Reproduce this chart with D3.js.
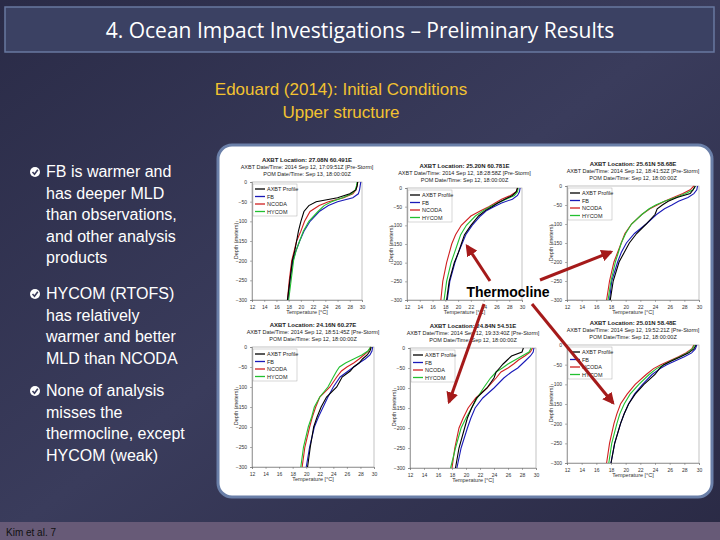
<!DOCTYPE html>
<html><head><meta charset="utf-8">
<script src="https://d3js.org/d3.v7.min.js"></script>
<style>body{margin:0;background:#2f304d}</style></head>
<body><svg id="s" width="720" height="540"></svg>
<script>
const depths=[0,10,20,30,40,50,60,75,100,125,150,175,200,250,300];
const seriesNames=["AXBT Profile","FB","NCODA","HYCOM"];
const seriesColors=["#000","#1a1ab8","#d02020","#22c030"];
const xTicks=[12,14,16,18,20,22,24,26,28,30];
const yTicks=[0,-50,-100,-150,-200,-250,-300];
const panelTitles=[
["AXBT Location: 27.08N 60.491E","AXBT Date/Time: 2014 Sep 12, 17:09:51Z [Pre-Storm]","POM Date/Time: Sep 13, 18:00:00Z"],
["AXBT Location: 25.20N 60.781E","AXBT Date/Time: 2014 Sep 12, 18:28:58Z [Pre-Storm]","POM Date/Time: Sep 12, 18:00:00Z"],
["AXBT Location: 25.61N 58.68E","AXBT Date/Time: 2014 Sep 12, 18:41:52Z [Pre-Storm]","POM Date/Time: Sep 12, 18:00:00Z"],
["AXBT Location: 24.16N 60.27E","AXBT Date/Time: 2014 Sep 12, 18:51:45Z [Pre-Storm]","POM Date/Time: Sep 12, 18:00:00Z"],
["AXBT Location: 24.84N 54.51E","AXBT Date/Time: 2014 Sep 12, 19:33:40Z [Pre-Storm]","POM Date/Time: Sep 12, 18:00:00Z"],
["AXBT Location: 25.01N 58.48E","AXBT Date/Time: 2014 Sep 12, 19:52:21Z [Pre-Storm]","POM Date/Time: Sep 12, 18:00:00Z"]];
const p1=[[29.3,29.2,29,28,26,22.5,21.3,20.5,20,19.6,19.3,19,18.6,18.2,17.8],
[29.8,29.7,29.6,29.4,28.5,26,24.5,23,21.5,20.5,19.8,19.2,18.7,18.2,17.9],
[29.3,29.2,29,28.5,27,24.5,23,21.5,20.6,20,19.3,18.9,18.5,18.1,17.8],
[29.2,29.1,28.9,28.3,26.8,25,23.8,22.8,21.3,20.4,19.8,19.2,18.8,18.4,18]];
const p2=[[29.3,29.1,28.5,27.3,26.2,25.3,24.3,23.2,22,21,20.5,20,19.4,18.6,18.2],
[29.7,29.6,29.3,28.5,26.8,25.6,24.5,23.5,22.2,21.2,20.6,20,19.5,18.7,18.3],
[29.3,29.1,28.2,26.8,25.8,24.8,23.6,22,20.5,19.6,19,18.6,18.2,17.6,17.3],
[29.4,29.3,28.8,27.5,26.2,25,24,22.7,21.3,20.4,19.9,19.4,18.9,18.2,17.8]];
const p3=[[29.5,29.2,28.8,27,25.8,25,24.3,24,22.8,21.5,20.5,19.8,19.1,18.3,17.9],
[29.8,29.7,29.3,28.5,27.2,26.3,25.3,24.2,22.8,21.2,20.1,19.4,18.9,18.1,17.8],
[29.3,28.8,27.8,26.5,25.3,24.3,23.3,22.2,20.8,19.9,19.4,18.9,18.4,17.8,17.4],
[29.5,29.2,28.2,26.8,25.3,24.1,23.2,22.2,20.8,20,19.4,19,18.6,18,17.6]];
const p4=[[29.6,29.4,29,28.3,27.8,27,26.5,25.3,24.5,23,22.2,21.6,21.1,20.6,20.2],
[29.8,29.7,29.4,28.7,27.8,27,26.2,25,24,23.2,22.5,21.8,21.2,20.5,20],
[29.5,29.2,28.5,27.8,27,26,25.2,24.5,23.5,22,21.4,20.9,20.5,19.8,19.4],
[29.5,29.1,28.2,27,25.8,24.9,24.5,24,23.2,22,21.2,20.8,20.3,19.6,19.2]];
const p5=[[28.2,28,26.5,25.9,25.3,24.8,24.3,24,23,21.5,20.8,20.2,19.8,19,18.5],
[29.7,29.6,29.2,28.6,28,27.4,26.5,25.4,24,22.4,21.3,20.7,20.2,19.3,18.7],
[29.5,29.2,28.4,27.5,26.8,26,25,24.3,23,21.4,20.3,19.6,19,18.4,18],
[29.3,29,28,27,26,25.2,24.3,23.5,22.5,21.6,20.8,20,19.3,18.5,17.8]];
const p6=[[29.6,29.3,28.6,27.5,26.3,25.2,24.6,24,22.5,21.3,20.4,19.8,19.3,18.5,18],
[29.7,29.5,29,28,26.8,25.6,24.7,23.6,22.3,21.2,20.4,19.8,19.3,18.5,18],
[29.3,29,28.2,27.2,26,24.8,23.8,22.8,21.3,20.2,19.3,18.8,18.4,17.8,17.4],
[29.4,29.1,28.4,27.4,26.2,25.2,24.2,23.2,21.8,20.6,19.8,19.2,18.8,18.1,17.7]];
const panelData=[p1,p2,p3,p4,p5,p6];
const bullets=[["FB is warmer and","has deeper MLD","than observations,","and other analysis","products"],
["HYCOM (RTOFS)","has relatively","warmer and better","MLD than NCODA"],
["None of analysis","misses the","thermocline, except","HYCOM (weak)"]];

const svg=d3.select("#s");
const g0=svg.append("defs").append("linearGradient").attr("id","bg").attr("x1",0).attr("x2",1).attr("y1",0).attr("y2",1);
g0.append("stop").attr("offset",0).attr("stop-color","#2a2b47");
g0.append("stop").attr("offset",0.5).attr("stop-color","#3a3c5c");
g0.append("stop").attr("offset",1).attr("stop-color","#2a2a45");
svg.append("rect").attr("width",720).attr("height",540).attr("fill","url(#bg)");
svg.append("rect").attr("x",5).attr("y",7).attr("width",709).attr("height",45).attr("fill","#3b4163").attr("stroke","#6878a0").attr("stroke-width",1.5);
svg.append("text").attr("x",360).attr("y",38).attr("text-anchor","middle").attr("fill","#fff").attr("font-family","Open Sans").attr("font-size",21).text("4. Ocean Impact Investigations – Preliminary Results");
svg.append("text").attr("x",341).attr("y",95).attr("text-anchor","middle").attr("fill","#f2c230").attr("font-family","Liberation Sans").attr("font-size",17).text("Edouard (2014): Initial Conditions");
svg.append("text").attr("x",341).attr("y",118).attr("text-anchor","middle").attr("fill","#f2c230").attr("font-family","Liberation Sans").attr("font-size",17).text("Upper structure");
svg.append("rect").attr("x",0).attr("y",522).attr("width",720).attr("height",18).attr("fill","#675a77");
svg.append("text").attr("x",6).attr("y",536).attr("fill","#111").attr("font-family","Liberation Sans").attr("font-size",10).text("Kim et al. 7");
const by=[177,299,396];
bullets.forEach((b,i)=>{
  const bx=svg.append("g").attr("transform",`translate(35,${by[i]-5})`);
  bx.append("circle").attr("r",5).attr("fill","#fff");
  bx.append("path").attr("d","M-2.5,0 L-0.5,2.2 L2.8,-2.3").attr("stroke","#3a3c5c").attr("stroke-width",1.6).attr("fill","none");
  b.forEach((t,j)=>svg.append("text").attr("x",46).attr("y",by[i]+j*21.5).attr("fill","#fff").attr("font-family","Liberation Sans").attr("font-size",16).text(t));
});
svg.append("rect").attr("x",218).attr("y",145).attr("width",494).attr("height",352).attr("rx",14).attr("fill","#fff").attr("stroke","#6a7fa8").attr("stroke-width",3);
const boxes=[[252,182,110,118],[407,188,115,112],[567,186,132,114],[252,347,122,120],[410,348,126,120],[567,345,132,118]];
boxes.forEach((b,i)=>{
  const [x0,y0,w,h]=b;
  const x=d3.scaleLinear().domain([12,30]).range([x0,x0+w]);
  const y=d3.scaleLinear().domain([0,-300]).range([y0,y0+h]);
  const g=svg.append("g").attr("font-family","Liberation Sans");
  g.append("rect").attr("x",x0).attr("y",y0).attr("width",w).attr("height",h).attr("fill","#fff").attr("stroke","#999").attr("stroke-width",0.6);
  const ax=g.append("g").attr("transform",`translate(0,${y0+h})`).call(d3.axisBottom(x).tickValues(xTicks).tickSize(2));
  const ay=g.append("g").attr("transform",`translate(${x0},0)`).call(d3.axisLeft(y).tickValues(yTicks).tickSize(2));
  [ax,ay].forEach(a=>{a.selectAll("text").attr("font-size",5).attr("fill","#333");a.selectAll("line,path").attr("stroke","#666").attr("stroke-width",0.5);});
  g.append("text").attr("x",x0+w/2).attr("y",y0+h+14).attr("text-anchor","middle").attr("font-size",5.5).attr("fill","#333").text("Temperature [°C]");
  g.append("text").attr("transform",`translate(${x0-14},${y0+h/2}) rotate(-90)`).attr("text-anchor","middle").attr("font-size",5.5).attr("fill","#333").text("Depth (meters)");
  panelTitles[i].forEach((t,j)=>g.append("text").attr("x",x0+w/2).attr("y",y0-20+j*7).attr("text-anchor","middle").attr("font-size",j==0?6:5.5).attr("font-weight",j==0?"bold":"normal").attr("fill","#222").text(t));
  const line=d3.line().x(d=>x(d[0])).y(d=>y(-d[1]));
  [1,2,3,0].forEach(k=>g.append("path").attr("d",line(panelData[i][k].map((v,j)=>[v,depths[j]]))).attr("fill","none").attr("stroke",seriesColors[k]).attr("stroke-width",1.1));
  const lg=g.append("g").attr("transform",`translate(${x0+1},${y0+2})`);
  lg.append("rect").attr("width",44).attr("height",32).attr("fill","#fff").attr("stroke","#999").attr("stroke-width",0.4);
  seriesNames.forEach((n,k)=>{
    lg.append("line").attr("x1",2).attr("x2",12).attr("y1",5+k*7.5).attr("y2",5+k*7.5).attr("stroke",seriesColors[k]).attr("stroke-width",1.3);
    lg.append("text").attr("x",14).attr("y",7+k*7.5).attr("font-size",5.5).attr("fill","#222").text(n);
  });
});
const defs=svg.select("defs");
defs.append("marker").attr("id","ah").attr("viewBox","0 0 10 10").attr("refX",8).attr("refY",5).attr("markerWidth",4).attr("markerHeight",4).attr("orient","auto")
 .append("path").attr("d","M0,0 L10,5 L0,10 z").attr("fill","#a51a1a");
[[490,281,467,246],[540,280,611,252],[484,304,449,402],[532,304,613,403]].forEach(a=>
  svg.append("line").attr("x1",a[0]).attr("y1",a[1]).attr("x2",a[2]).attr("y2",a[3]).attr("stroke","#a51a1a").attr("stroke-width",3).attr("marker-end","url(#ah)"));
svg.append("text").attr("x",508).attr("y",297).attr("text-anchor","middle").attr("font-family","Liberation Sans").attr("font-weight","bold").attr("font-size",14).attr("fill","#000").text("Thermocline");
</script></body></html>
